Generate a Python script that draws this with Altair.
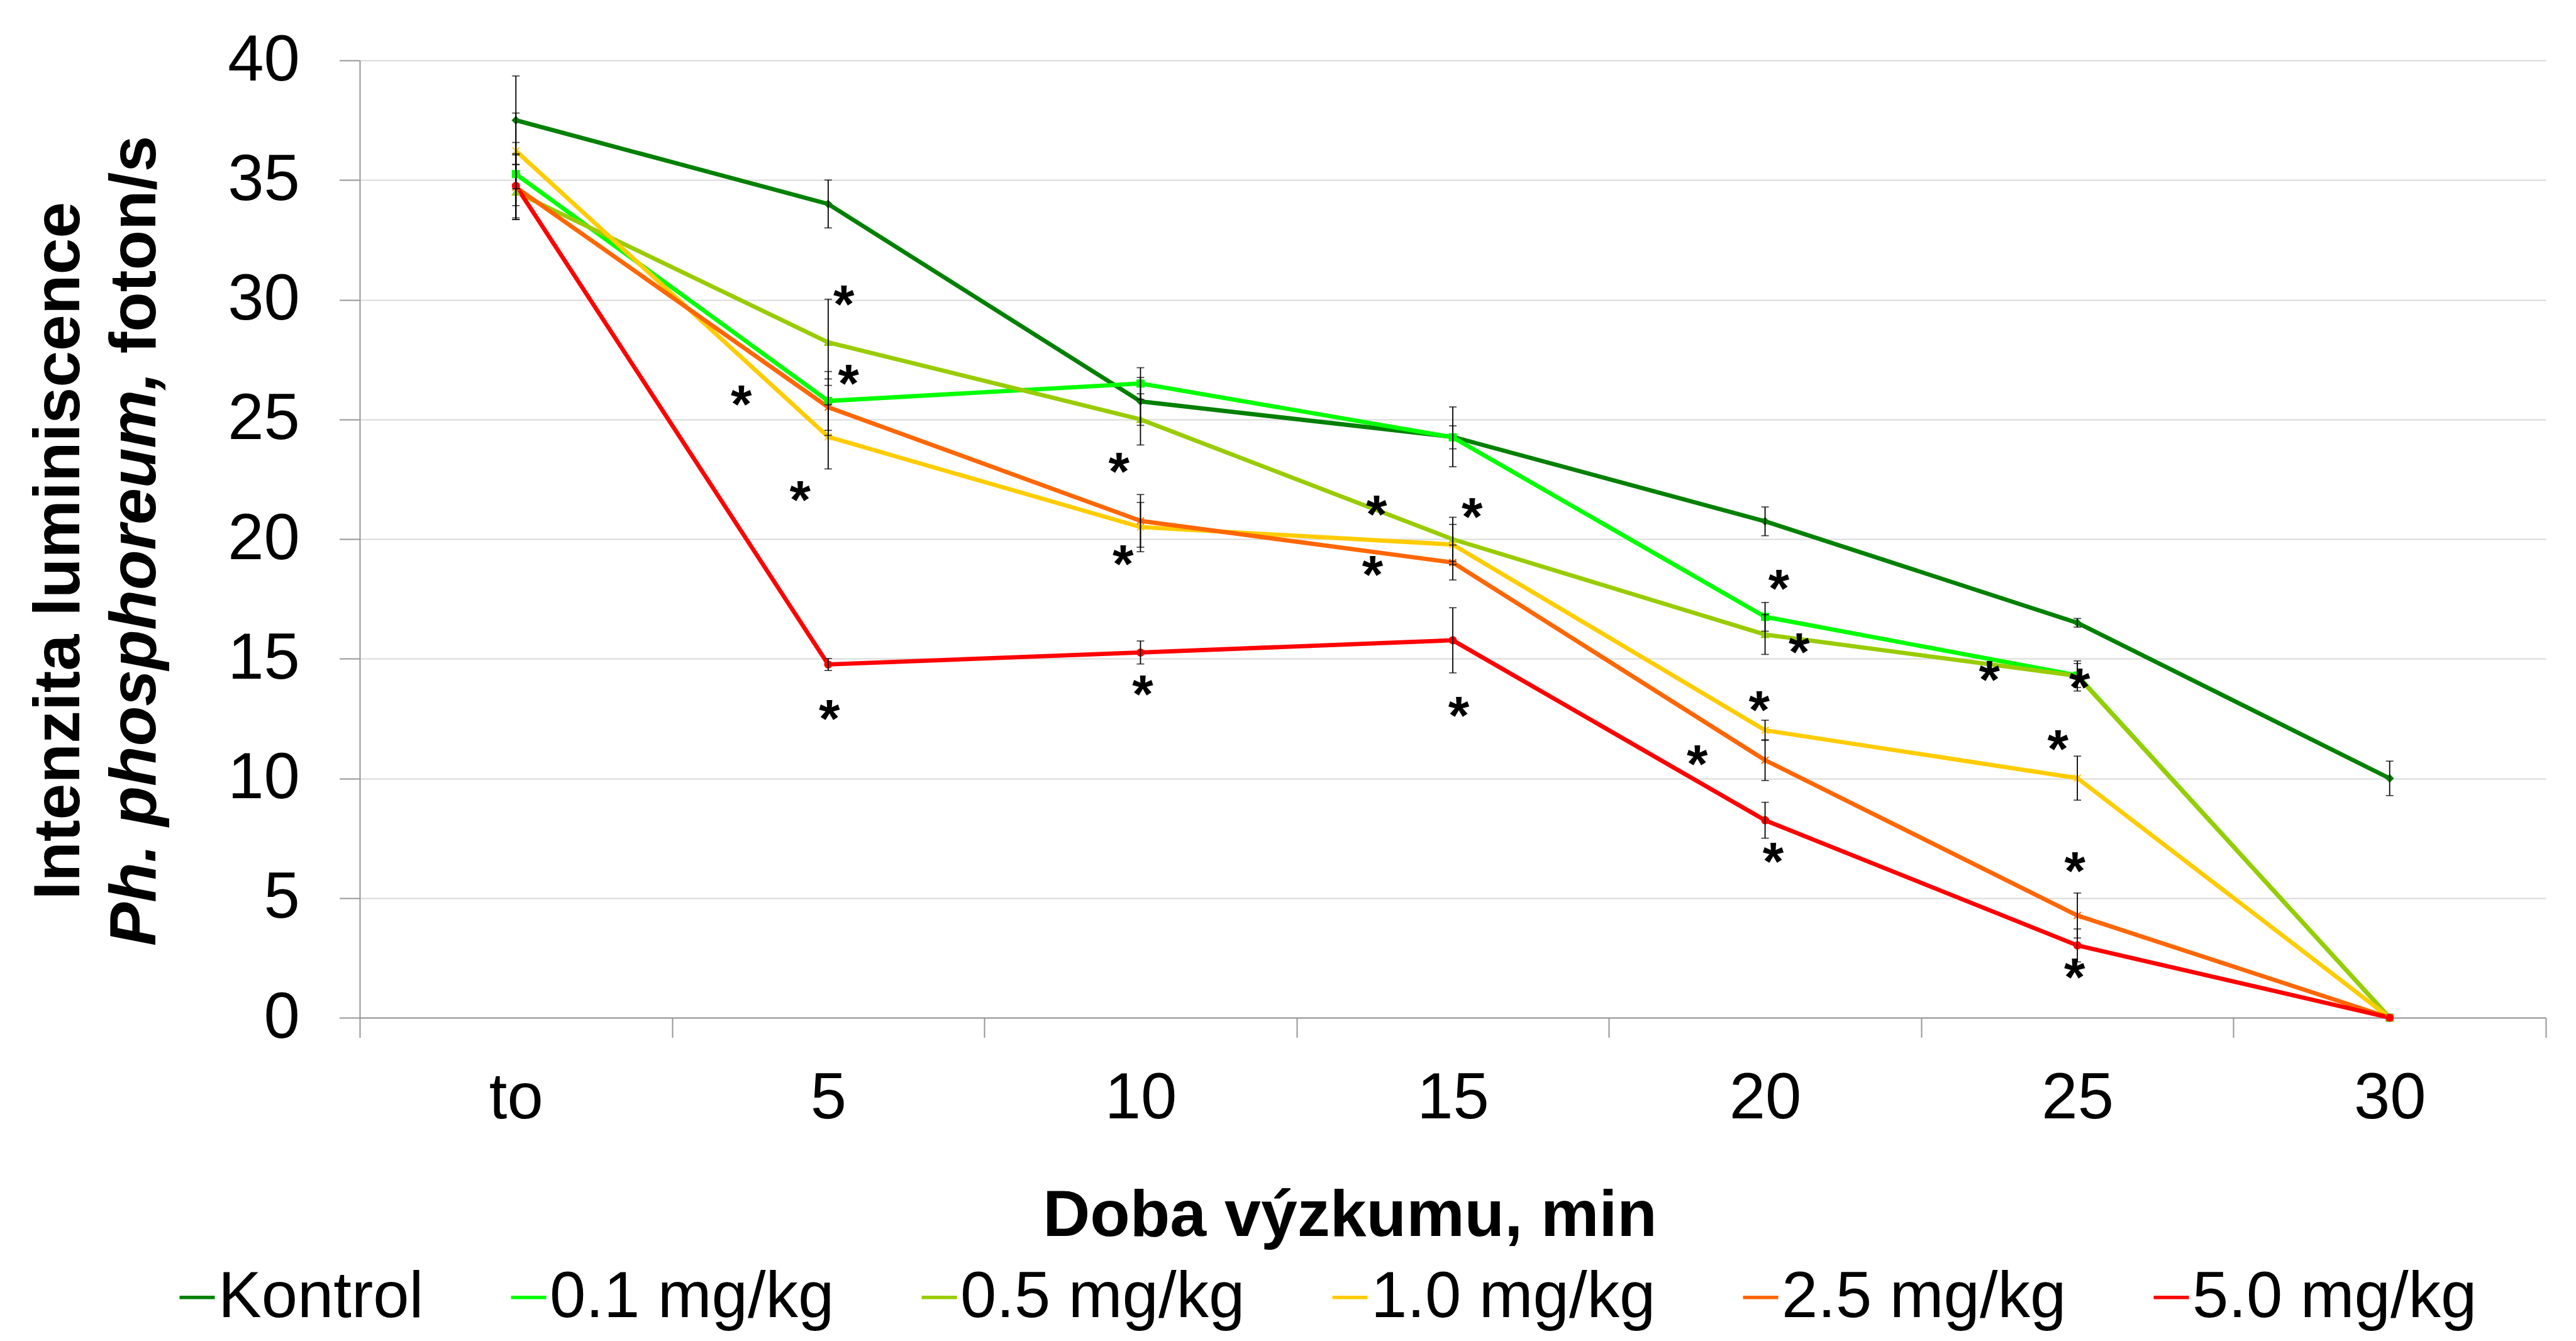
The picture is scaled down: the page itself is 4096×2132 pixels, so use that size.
import altair as alt
import pandas as pd

# ---------------- data ----------------
categories = ["to", "5", "10", "15", "20", "25", "30"]
series = ["Kontrol", "0.1 mg/kg", "0.5 mg/kg", "1.0 mg/kg", "2.5 mg/kg", "5.0 mg/kg"]
colors = ["#008000", "#00FF00", "#99CC00", "#FFCC00", "#FF6600", "#FF0000"]
shapes = ["diamond", "square", "triangle-up",
          "M-1,-1L1,1M-1,1L1,-1",
          "M-1,-1L1,1M-1,1L1,-1M0,-1L0,1",
          "circle"]

kontrol = [37.5, 34.0, 25.75, 24.27, 20.74, 16.5, 10.0]
dose_01 = [35.25, 25.77, 26.5, 24.25, 16.75, 14.3, 0.0]
dose_05 = [34.5, 28.22, 25.0, 19.99, 16.01, 14.28, 0.0]
dose_10 = [36.22, 24.27, 20.5, 19.77, 12.01, 10.01, 0.0]
dose_25 = [34.7, 25.51, 20.76, 19.02, 10.76, 4.27, 0.0]
dose_50 = [34.76, 14.76, 15.26, 15.77, 8.25, 3.02, 0.0]

err_kontrol = [1.85, 1.0, 1.0, 1.25, 0.6, 0.18, 0.72]
err_01 = [1.32, 1.23, 0.66, 0.48, 0.6, 0.5, 0.0]
err_05 = [1.15, 1.8, 1.07, 0.92, 0.83, 0.63, 0.0]
err_10 = [1.58, 1.34, 1.03, 0.84, 0.42, 0.92, 0.0]
err_25 = [1.35, 1.18, 1.1, 0.73, 0.85, 0.94, 0.0]
err_50 = [1.34, 0.25, 0.48, 1.36, 0.75, 0.69, 0.0]

# significance marks (*): position in category units and value units
ast_x = [1.050, 1.065, 0.722, 0.910, 1.004, 1.931, 1.944, 2.007, 2.756, 3.062, 2.743,
         3.019, 4.044, 4.109, 3.981, 3.783, 4.026, 4.718, 5.007, 4.938, 4.992, 4.991]
ast_y = [30.29, 26.98, 26.13, 22.12, 12.97, 23.32, 19.45, 14.0, 21.52, 21.43, 19.0,
         13.12, 18.42, 15.76, 13.35, 11.09, 7.01, 14.62, 14.31, 11.71, 6.62, 2.18]

y_title_1 = "Intenzita luminiscence"
y_title_2a = "Ph. phosphoreum,"
y_title_2b = "foton/s"
x_title = "Doba výzkumu, min"

# ---------------- tables ----------------
values = [kontrol, dose_01, dose_05, dose_10, dose_25, dose_50]
errors = [err_kontrol, err_01, err_05, err_10, err_25, err_50]
rows = []
for s, vals, errs in zip(series, values, errors):
    for i, (v, e) in enumerate(zip(vals, errs)):
        rows.append({"series": s, "xi": float(i), "value": v,
                     "lo": v - e, "hi": v + e, "err": e})
df = pd.DataFrame(rows)
df_err = df[df["err"] > 0]
df_ast = pd.DataFrame({"ax": ast_x, "ay": ast_y})

# ---------------- geometry ----------------
W, H = 3476, 1522
FONT = "Liberation Sans"
FS = 103
BAND = W / len(categories)

label_js = "[" + ",".join("'%s'" % c for c in categories + [""]) + "]"

x_axis = alt.Axis(
    values=[i - 0.5 for i in range(len(categories) + 1)],
    labelExpr=label_js + "[round(datum.value + 0.5)]",
    labelOffset=BAND / 2, labelOverlap=False, labelFlush=False, labelBound=False,
    labelFont=FONT, labelFontSize=FS, labelColor="#000000", labelPadding=47,
    tickSize=31.4, tickColor="#969696", tickWidth=2,
    domainColor="#969696", domainWidth=2, grid=False,
    title=x_title, titleFont=FONT, titleFontSize=104, titleFontWeight="bold",
    titleColor="#000000", titleX=1574, titleY=346.6, titleAlign="center",
    titleBaseline="alphabetic", titleAnchor="start",
)
y_axis = alt.Axis(
    values=list(range(0, 41, 5)), labelFont=FONT, labelFontSize=FS, labelColor="#000000",
    labelPadding=63.3, tickSize=32.4, tickColor="#969696", tickWidth=2,
    domainColor="#969696", domainWidth=2, grid=True, gridColor="#D9D9D9", gridWidth=2,
    title=None,
)
x_scale = alt.Scale(domain=[-0.5, len(categories) - 0.5], nice=False, zero=False)
y_scale = alt.Scale(domain=[0, 40], nice=False, zero=True)


def xe(field):
    return alt.X(field + ":Q", scale=x_scale, axis=x_axis)


def ye(field):
    return alt.Y(field + ":Q", scale=y_scale, axis=y_axis)


base = alt.Chart(df)

lines = base.mark_line(strokeWidth=6.8).encode(
    x=xe("xi"), y=ye("value"),
    color=alt.Color(
        "series:N", sort=series,
        scale=alt.Scale(domain=series, range=colors),
        legend=alt.Legend(
            orient="none", legendX=-310, legendY=1915, direction="horizontal",
            title=None, symbolType="stroke", symbolSize=3136, symbolStrokeWidth=5.5,
            labelFont=FONT, labelFontSize=FS, labelColor="#000000", labelLimit=2000,
            columnPadding=115, labelOffset={"expr": "-18"}, padding=0, offset=0,
            symbolOffset=0,
        ),
    ),
    order=alt.Order("xi:Q"),
)

# small vertex markers, one layer per series (constant shape/colour, no legend)
point_layers = []
for s, col, shp in zip(series, colors, shapes):
    point_layers.append(
        base.transform_filter(alt.datum.series == s)
        .mark_point(filled=True, size=120, strokeWidth=2, opacity=1,
                    shape=shp, fill=col, stroke=col)
        .encode(x=xe("xi"), y=ye("value"))
    )

err_base = alt.Chart(df_err)
err_rule = err_base.mark_rule(color="#000000", strokeWidth=1.8).encode(
    x=xe("xi"), y=ye("lo"), y2="hi:Q"
)
err_lo = err_base.mark_tick(color="#000000", orient="horizontal", size=12, thickness=1.8).encode(
    x=xe("xi"), y=ye("lo")
)
err_hi = err_base.mark_tick(color="#000000", orient="horizontal", size=12, thickness=1.8).encode(
    x=xe("xi"), y=ye("hi")
)

asterisks = alt.Chart(df_ast).mark_text(
    text="*", font=FONT, fontWeight="bold", fontSize=86, color="#000000",
    align="center", baseline="alphabetic", dy=48,
).encode(x=xe("ax"), y=ye("ay"))

ytitle1 = alt.Chart(pd.DataFrame({"t": [y_title_1]})).mark_text(
    font=FONT, fontWeight="bold", fontSize=104, color="#000000", angle=270,
    align="center", baseline="alphabetic",
).encode(text="t:N", x=alt.value(-446.5), y=alt.value(779.7))

ytitle2a = alt.Chart(pd.DataFrame({"t": [y_title_2a]})).mark_text(
    font=FONT, fontWeight="bold", fontStyle="italic", fontSize=104, color="#000000",
    angle=270, align="right", baseline="alphabetic",
).encode(text="t:N", x=alt.value(-325.3), y=alt.value(495.2))

ytitle2b = alt.Chart(pd.DataFrame({"t": [y_title_2b]})).mark_text(
    font=FONT, fontWeight="bold", fontSize=104, color="#000000",
    angle=270, align="left", baseline="alphabetic",
).encode(text="t:N", x=alt.value(-325.3), y=alt.value(466.3))

chart = alt.layer(
    lines, *point_layers, err_rule, err_lo, err_hi, asterisks, ytitle1, ytitle2a, ytitle2b
).properties(
    width=W, height=H,
    padding={"left": 564, "top": 88, "right": 30, "bottom": 506},
    autosize=alt.AutoSizeParams(type="none"),
    background="#FFFFFF",
).configure_view(stroke=None)

chart.save("out.html", embed_options={"renderer": "svg", "actions": False})
